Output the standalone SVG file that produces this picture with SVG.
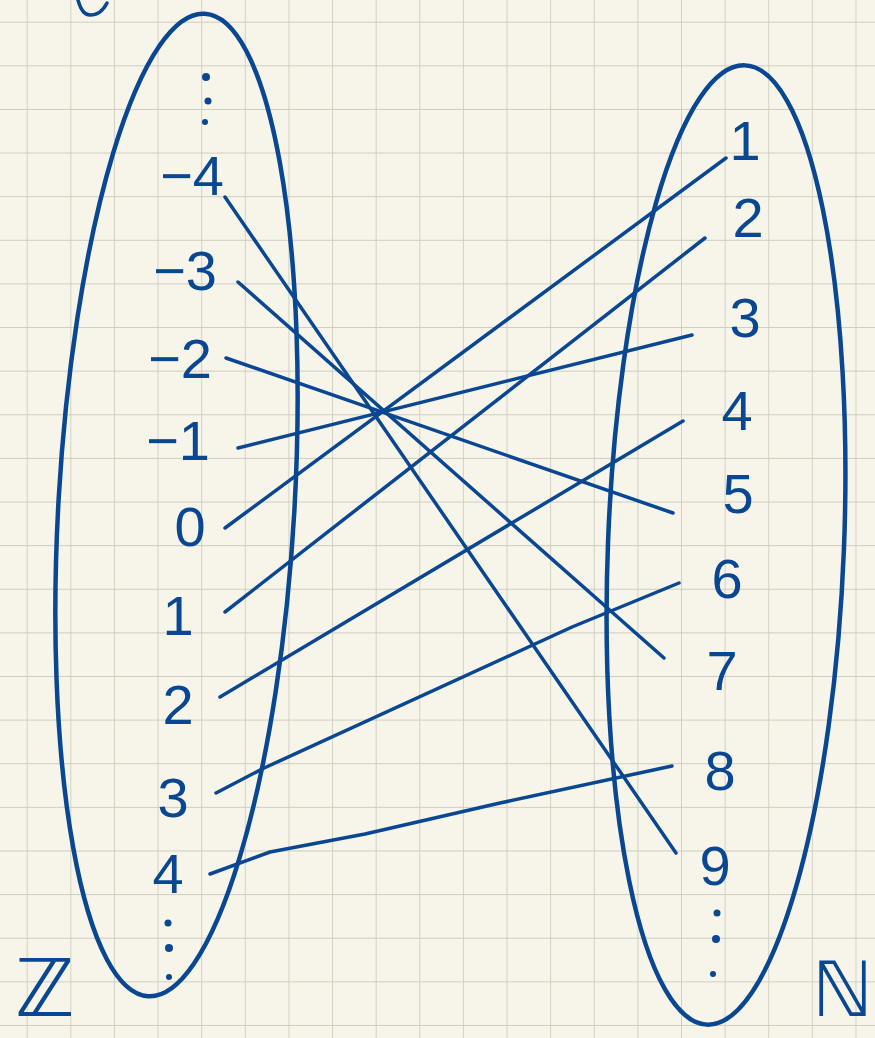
<svg xmlns="http://www.w3.org/2000/svg" width="875" height="1038" viewBox="0 0 875 1038">
<style>
.ink{fill:#0a4792;font-family:"Liberation Sans","DejaVu Sans",sans-serif;font-size:56px;}
.big{fill:#0a4792;font-family:"DejaVu Sans",sans-serif;}
.mid{text-anchor:middle;}
.end{text-anchor:end;}
.set{fill:none;stroke:#0a4792;stroke-width:4.5;}
.con{fill:none;stroke:#0a4792;stroke-width:3.5;stroke-linecap:round;stroke-linejoin:round;}
.dot{fill:#0a4792;}
</style>
<defs>
<pattern id="grid" patternUnits="userSpaceOnUse" x="26.7" y="21.7" width="43.62" height="43.62">
<path d="M0,0 H43.62 M0,0 V43.62" fill="none" stroke="#cfcdc0" stroke-width="1.8"/>
</pattern>
</defs>
<rect width="875" height="1038" fill="#f7f5ea"/>
<rect width="875" height="1038" fill="url(#grid)"/>
<path class="con" d="M78,0 Q82,15 90,15 Q101,15 107,3"/>
<g id="setZ">
<ellipse class="set" cx="176.5" cy="505" rx="118" ry="492" transform="rotate(3.3 176.5 505)"/>
<text class="big" x="15" y="1016" font-size="80">ℤ</text>
</g>
<g id="setN">
<ellipse class="set" cx="726" cy="545" rx="118" ry="480" transform="rotate(2.27 726 545)"/>
<text class="big" x="812" y="1016" font-size="76">ℕ</text>
</g>
<g id="zTopDots"><circle class="dot" cx="206" cy="77" r="4"/><circle class="dot" cx="208" cy="101" r="3.5"/><circle class="dot" cx="205" cy="122" r="3"/></g>
<g id="zBottomDots"><circle class="dot" cx="168" cy="923" r="3.5"/><circle class="dot" cx="169" cy="948" r="4"/><circle class="dot" cx="169" cy="977" r="3"/></g>
<g id="nBottomDots"><circle class="dot" cx="717" cy="913" r="3.5"/><circle class="dot" cx="716" cy="939" r="4"/><circle class="dot" cx="713" cy="974" r="3"/></g>
<g id="z-4"><text class="ink end" x="224" y="195">−4</text></g>
<g id="z-3"><text class="ink end" x="217" y="290">−3</text></g>
<g id="z-2"><text class="ink end" x="212" y="378">−2</text></g>
<g id="z-1"><text class="ink end" x="210" y="460">−1</text></g>
<g id="z0"><text class="ink mid" x="190" y="546">0</text></g>
<g id="z1"><text class="ink mid" x="178" y="635">1</text></g>
<g id="z2"><text class="ink mid" x="178" y="724">2</text></g>
<g id="z3"><text class="ink mid" x="173" y="817">3</text></g>
<g id="z4"><text class="ink mid" x="168" y="893">4</text></g>
<g id="n1"><text class="ink mid" x="745" y="160">1</text></g>
<g id="n2"><text class="ink mid" x="748" y="237">2</text></g>
<g id="n3"><text class="ink mid" x="745" y="337">3</text></g>
<g id="n4"><text class="ink mid" x="737" y="430">4</text></g>
<g id="n5"><text class="ink mid" x="738" y="513">5</text></g>
<g id="n6"><text class="ink mid" x="727" y="598">6</text></g>
<g id="n7"><text class="ink mid" x="722" y="690">7</text></g>
<g id="n8"><text class="ink mid" x="720" y="790">8</text></g>
<g id="n9"><text class="ink mid" x="715" y="885">9</text></g>
<g id="connectors">
<path class="con" d="M225,197 L676,853"/>
<path class="con" d="M238,282 L664,658"/>
<path class="con" d="M226,358 L673,513"/>
<path class="con" d="M238,448 L692,335"/>
<path class="con" d="M225,528 L726,158"/>
<path class="con" d="M225,612 L705,238"/>
<path class="con" d="M220,697 L683,421"/>
<path class="con" d="M216,793 L262,769 L572,627 L679,583"/>
<path class="con" d="M210,874 L270,852 L365,834 L500,803 L672,766"/>
</g>
</svg>
